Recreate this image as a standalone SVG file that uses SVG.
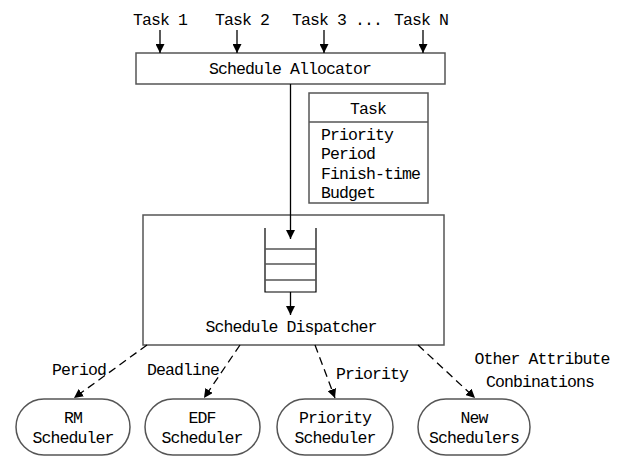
<svg xmlns="http://www.w3.org/2000/svg" width="617" height="458" viewBox="0 0 617 458">
<defs>
<style>
text{font-family:"Liberation Mono","DejaVu Sans Mono",monospace;font-size:16.5px;letter-spacing:-0.9px;fill:#000}
.c{text-anchor:middle}
.box{fill:#fff;stroke:#555;stroke-width:1.5}
.ln{stroke:#000;stroke-width:1.3;fill:none}
.dash{stroke:#000;stroke-width:1.3;fill:none;stroke-dasharray:8,5}
</style>
<marker id="ah" viewBox="0 0 10 10" refX="10" refY="5" markerWidth="9" markerHeight="9" markerUnits="userSpaceOnUse" orient="auto">
<path d="M0,0 L10,5 L0,10 z" fill="#000"/>
</marker>
</defs>
<rect width="617" height="458" fill="#fff"/>
<g id="task-labels">
<text x="133" y="25">Task 1</text>
<text x="215" y="25">Task 2</text>
<text x="292" y="25">Task 3 ...</text>
<text x="394" y="25">Task N</text>
</g>
<g id="allocator">
<rect class="box" x="136" y="53" width="309" height="31"/>
<text class="c" x="290" y="74">Schedule Allocator</text>
</g>
<g id="task-box">
<rect class="box" x="309" y="93" width="119" height="110"/>
<line x1="309" y1="122" x2="428" y2="122" stroke="#555" stroke-width="1.5"/>
<text class="c" x="368" y="114">Task</text>
<text x="321" y="140">Priority</text>
<text x="321" y="159">Period</text>
<text x="321" y="179">Finish-time</text>
<text x="321" y="198">Budget</text>
</g>
<g id="dispatcher">
<rect class="box" x="143" y="215" width="301" height="130"/>
<path d="M265,228 V292 H316 V228" fill="none" stroke="#000" stroke-width="1.2"/>
<line x1="265" y1="249" x2="316" y2="249" stroke="#555" stroke-width="1.5"/>
<line x1="265" y1="264" x2="316" y2="264" stroke="#555" stroke-width="1.5"/>
<line x1="265" y1="280" x2="316" y2="280" stroke="#555" stroke-width="1.5"/>
<text class="c" x="291" y="332">Schedule Dispatcher</text>
</g>
<g id="rm">
<rect class="box" x="16" y="399" width="114" height="56" rx="28"/>
<text class="c" x="73" y="423">RM</text>
<text class="c" x="73" y="443">Scheduler</text>
</g>
<g id="edf">
<rect class="box" x="145" y="399" width="115" height="56" rx="28"/>
<text class="c" x="202" y="423">EDF</text>
<text class="c" x="202" y="443">Scheduler</text>
</g>
<g id="priority">
<rect class="box" x="277" y="399" width="116" height="56" rx="28"/>
<text class="c" x="335" y="423">Priority</text>
<text class="c" x="335" y="443">Scheduler</text>
</g>
<g id="new">
<rect class="box" x="418" y="399" width="112" height="56" rx="28"/>
<text class="c" x="474" y="423">New</text>
<text class="c" x="474" y="443">Schedulers</text>
</g>
<g id="connectors">
<line class="ln" x1="160" y1="30" x2="160" y2="53" marker-end="url(#ah)"/>
<line class="ln" x1="237" y1="30" x2="237" y2="53" marker-end="url(#ah)"/>
<line class="ln" x1="324" y1="30" x2="324" y2="53" marker-end="url(#ah)"/>
<line class="ln" x1="423" y1="30" x2="423" y2="53" marker-end="url(#ah)"/>
<line class="ln" x1="290.5" y1="84" x2="290.5" y2="239" marker-end="url(#ah)"/>
<line class="ln" x1="290.5" y1="292" x2="290.5" y2="315" marker-end="url(#ah)"/>
<line class="dash" x1="147" y1="345" x2="74" y2="398" marker-end="url(#ah)"/>
<line class="dash" x1="240" y1="345" x2="204" y2="398" marker-end="url(#ah)"/>
<line class="dash" x1="315" y1="345" x2="335" y2="398" marker-end="url(#ah)"/>
<line class="dash" x1="418" y1="345" x2="475" y2="398" marker-end="url(#ah)"/>
<text x="52" y="375">Period</text>
<text x="147" y="375">Deadline</text>
<text x="336" y="379">Priority</text>
<text class="c" x="542" y="364">Other Attribute</text>
<text class="c" x="540" y="387">Conbinations</text>
</g>
</svg>
